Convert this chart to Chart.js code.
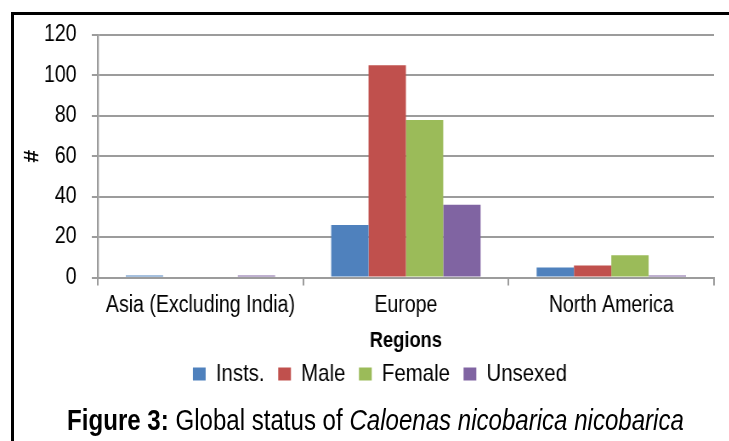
<!DOCTYPE html>
<html>
<head>
<meta charset="utf-8">
<script src="https://cdn.jsdelivr.net/npm/chart.js@4"></script>
<style>
  html, body { margin: 0; padding: 0; background: #fff; overflow: hidden; }
  #wrap { position: relative; width: 729px; height: 441px; overflow: hidden; }
  #frame { position: absolute; left: 11px; top: 12px; width: 800px; height: 500px;
           border-top: 3px solid #000; border-left: 3px solid #000; pointer-events: none; }
  /* the original uses a narrow face; squeeze the canvas sideways to get the same look */
  #chartBox { position: absolute; left: 0; top: 0; width: 894px; height: 441px;
              transform-origin: 0 0; transform: scaleX(0.85); }
  #caption { position: absolute; left: 0; width: 751px; top: 404px; text-align: center;
             font-family: "Liberation Sans", Arial, sans-serif;
             font-size: 29px; line-height: 33px; color: #000; white-space: nowrap;
             transform: scaleX(0.83); }
</style>
</head>
<body>
<div id="wrap">
  <div id="chartBox"><canvas id="regionChart" width="894" height="441"></canvas></div>
  <div id="frame"></div>
  <div id="caption"><b>Figure 3:</b> Global status of <i>Caloenas nicobarica nicobarica</i></div>
</div>
<script>
var regions = ['Asia (Excluding India)', 'Europe', 'North America'];
var insts = [1, 26, 5];
var male = [0, 105, 6];
var female = [0, 78, 11];
var unsexed = [1, 36, 1];
var yTicks = [0, 20, 40, 60, 80, 100, 120];

var font = "'Liberation Sans', Arial, sans-serif";
var gridGray = '#9c9c9c';

var ctx = document.getElementById('regionChart');
var regionChart = new Chart(ctx, {
    type: 'bar',
    data: {
        labels: regions,
        datasets: [
            { label: 'Insts.', data: insts, backgroundColor: '#4F81BD' },
            { label: 'Male', data: male, backgroundColor: '#C0504D' },
            { label: 'Female', data: female, backgroundColor: '#9BBB59' },
            { label: 'Unsexed', data: unsexed, backgroundColor: '#8064A2' }
        ]
    },
    options: {
        responsive: false,
        animation: false,
        devicePixelRatio: 1,
        categoryPercentage: 4 / 5.5,
        barPercentage: 1,
        layout: { padding: { top: 35, right: 0, bottom: 45, left: 0 } },
        plugins: {
            tooltip: { enabled: false },
            legend: {
                display: true,
                position: 'bottom',
                labels: {
                    color: '#000',
                    font: { family: font, size: 24 },
                    boxWidth: 15,
                    boxHeight: 13,
                    padding: 16
                }
            }
        },
        scales: {
            x: {
                grid: {
                    offset: true,
                    drawOnChartArea: false,
                    color: gridGray,
                    lineWidth: 2,
                    tickLength: 8
                },
                border: { color: gridGray, width: 2 },
                ticks: {
                    color: '#000',
                    font: { family: font, size: 23, lineHeight: 1 },
                    padding: 9,
                    autoSkip: false,
                    maxRotation: 0,
                    minRotation: 0
                },
                title: {
                    display: true,
                    text: 'Regions',
                    color: '#000',
                    font: { family: font, size: 21.5, weight: 'bold', lineHeight: 1 },
                    padding: { top: 4, bottom: -6 }
                }
            },
            y: {
                min: 0,
                max: 120,
                afterFit: function (scale) { scale.width = 115; },
                afterBuildTicks: function (scale) {
                    scale.ticks = yTicks.map(function (v) { return { value: v }; });
                },
                grid: {
                    color: gridGray,
                    lineWidth: 2,
                    tickLength: 7
                },
                border: { color: gridGray, width: 2.3 },
                ticks: {
                    color: '#000',
                    font: { family: font, size: 23 },
                    padding: 18
                },
                title: {
                    display: true,
                    text: '#',
                    color: '#000',
                    font: { family: font, size: 23, weight: 'bold' },
                    padding: { top: 25, bottom: 0 }
                }
            },
            // empty right-hand axis, only reserves room so the legend centres like the original
            spare: {
                type: 'linear',
                position: 'right',
                display: true,
                afterFit: function (scale) { scale.width = 54; },
                grid: { display: false },
                border: { display: false },
                ticks: { display: false }
            }
        }
    }
});
</script>
</body>
</html>
